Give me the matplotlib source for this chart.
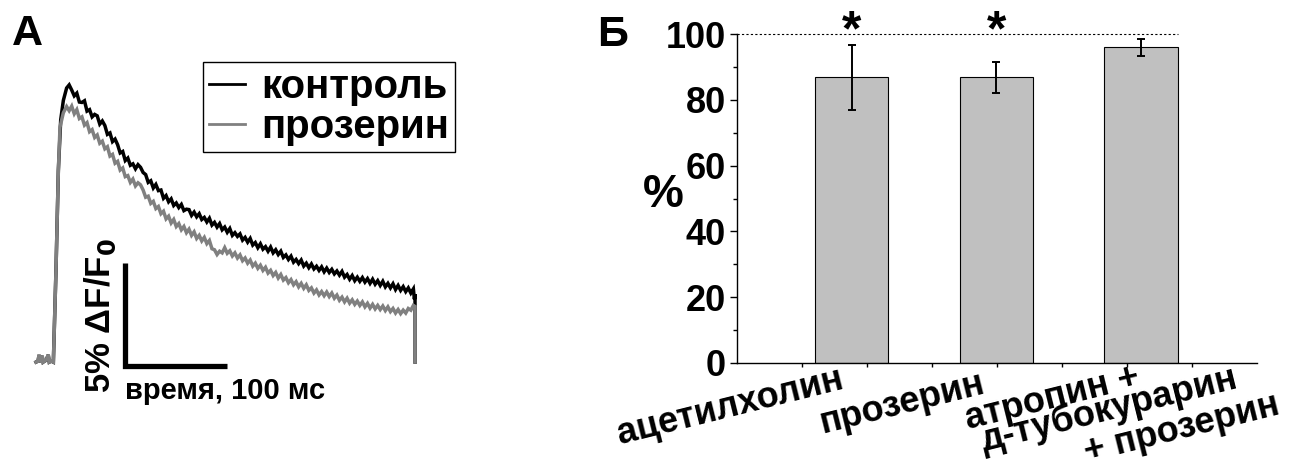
import numpy as np
import matplotlib
matplotlib.use('Agg')
import matplotlib.pyplot as plt
from matplotlib.lines import Line2D

plt.rcParams['font.family'] = ['Liberation Sans', 'DejaVu Sans']
plt.rcParams['font.weight'] = 'bold'

# --- panel A: fluorescence transients (time in ms, dF/F0 in %) ---
# pre-stimulus baseline and rising phase (shared by both records)
onset_t = [0, 2, 3, 4, 6, 7, 10, 12, 13, 15, 17, 19.6, 21.9]
onset_y = [0, 0.05, 0.35, 0.0, 0.3, 0.0, 0.1, 0.35, 0.0, 0.05, 0, 4.5, 9.3]

control_t = [24.2, 26.8, 30.0, 32.5, 35.0, 37.5, 40.0, 42.5, 45.0, 47.5, 50.0, 52.5,
             55.0, 57.5, 60.0, 62.5, 65.0, 67.5, 70.0, 72.5, 75.0, 77.5, 80.0, 82.5,
             85.0, 87.5, 90.0, 92.5, 95.0, 97.5, 100.0, 102.5, 105.0, 107.5, 110.0, 112.5,
             115.0, 117.5, 120.0, 122.5, 125.0, 127.5, 130.0, 132.5, 135.0, 137.5, 140.0, 142.5,
             145.0, 147.5, 150.0, 152.5, 155.0, 157.5, 160.0, 162.5, 165.0, 167.5, 170.0, 172.5,
             175.0, 177.5, 180.0, 182.5, 185.0, 187.5, 190.0, 192.5, 195.0, 197.5, 200.0, 202.5,
             205.0, 207.5, 210.0, 212.5, 215.0, 217.5, 220.0, 222.5, 225.0, 227.5, 230.0, 232.5,
             235.0, 237.5, 240.0, 242.5, 245.0, 247.5, 250.0, 252.5, 255.0, 257.5, 260.0, 262.5,
             265.0, 267.5, 270.0, 272.5, 275.0, 277.5, 280.0, 282.5, 285.0, 287.5, 290.0, 292.5,
             295.0, 297.5, 300.0, 302.5, 305.0, 307.5, 310.0, 312.5, 315.0, 317.5, 320.0, 322.5,
             325.0, 327.5, 330.0, 332.5, 335.0, 337.5, 340.0, 342.5, 345.0, 347.5, 350.0, 352.5,
             355.0, 357.5, 360.0, 362.5, 365.0, 367.5, 370.0, 371.0, 371.6, 371.7]
control_y = [11.75, 12.7, 13.3, 13.45, 13.2, 12.92, 13.05, 12.62, 12.6, 12.68, 12.18, 12.25,
             11.9, 12.02, 11.95, 11.55, 11.7, 11.48, 11.05, 11.12, 10.7, 10.82, 10.55, 10.15,
             10.22, 9.78, 9.9, 9.55, 9.62, 9.38, 9.58, 9.45, 9.2, 9.1, 8.72, 8.8,
             8.45, 8.62, 8.32, 8.35, 7.95, 8.08, 7.78, 7.92, 7.6, 7.72, 7.5, 7.65,
             7.35, 7.42, 7.4, 7.12, 7.28, 7.05, 7.2, 6.92, 7.02, 6.8, 6.98, 6.65,
             6.78, 6.55, 6.72, 6.42, 6.55, 6.3, 6.48, 6.15, 6.28, 6.1, 6.22, 5.92,
             6.05, 5.82, 6.0, 5.68, 5.8, 5.55, 5.74, 5.48, 5.6, 5.38, 5.58, 5.3,
             5.45, 5.22, 5.38, 5.08, 5.2, 4.98, 5.14, 4.85, 4.98, 4.78, 4.95, 4.66,
             4.8, 4.58, 4.76, 4.52, 4.65, 4.45, 4.62, 4.38, 4.56, 4.35, 4.5, 4.28,
             4.42, 4.22, 4.4, 4.12, 4.25, 4.02, 4.2, 3.95, 4.12, 3.92, 4.1, 3.88,
             4.05, 3.82, 4.02, 3.78, 3.95, 3.72, 3.92, 3.65, 3.82, 3.6, 3.8, 3.52,
             3.72, 3.48, 3.66, 3.42, 3.6, 3.35, 3.55, 3.05, 3.3, 0]

neostigmine_t = [23.5, 26.8, 30.0, 32.5, 35.0, 37.5, 40.0, 42.5, 45.0, 47.5, 50.0, 52.5,
                 55.0, 57.5, 60.0, 62.5, 65.0, 67.5, 70.0, 72.5, 75.0, 77.5, 80.0, 82.5,
                 85.0, 87.5, 90.0, 92.5, 95.0, 97.5, 100.0, 102.5, 105.0, 107.5, 110.0, 112.5,
                 115.0, 117.5, 120.0, 122.5, 125.0, 127.5, 130.0, 132.5, 135.0, 137.5, 140.0, 142.5,
                 145.0, 147.5, 150.0, 152.5, 155.0, 157.5, 160.0, 162.5, 165.0, 167.5, 170.0, 172.5,
                 175.0, 177.5, 180.0, 182.5, 185.0, 187.5, 190.0, 192.5, 195.0, 197.5, 200.0, 202.5,
                 205.0, 207.5, 210.0, 212.5, 215.0, 217.5, 220.0, 222.5, 225.0, 227.5, 230.0, 232.5,
                 235.0, 237.5, 240.0, 242.5, 245.0, 247.5, 250.0, 252.5, 255.0, 257.5, 260.0, 262.5,
                 265.0, 267.5, 270.0, 272.5, 275.0, 277.5, 280.0, 282.5, 285.0, 287.5, 290.0, 292.5,
                 295.0, 297.5, 300.0, 302.5, 305.0, 307.5, 310.0, 312.5, 315.0, 317.5, 320.0, 322.5,
                 325.0, 327.5, 330.0, 332.5, 335.0, 337.5, 340.0, 342.5, 345.0, 347.5, 350.0, 352.5,
                 355.0, 357.5, 360.0, 362.5, 365.0, 367.5, 370.0, 371.6, 371.7]
neostigmine_y = [11.4, 12.1, 12.4, 12.2, 12.42, 12.05, 12.25, 11.82, 11.9, 11.5, 11.62, 11.18,
                 11.28, 10.9, 11.02, 10.62, 10.72, 10.35, 10.45, 10.0, 10.08, 9.65, 9.74, 9.32,
                 9.42, 9.0, 9.05, 8.72, 8.88, 8.55, 8.7, 8.6, 8.35, 8.0, 8.05, 7.7,
                 7.8, 7.45, 7.55, 7.2, 7.32, 6.95, 7.08, 6.75, 6.92, 6.58, 6.72, 6.42,
                 6.58, 6.28, 6.45, 6.15, 6.32, 6.0, 6.15, 5.88, 6.05, 5.75, 5.9, 5.5,
                 5.45, 5.22, 5.38, 5.3, 5.55, 5.28, 5.4, 5.15, 5.3, 5.05, 5.2, 4.92,
                 5.05, 4.8, 4.95, 4.66, 4.8, 4.55, 4.7, 4.45, 4.6, 4.32, 4.45, 4.2,
                 4.35, 4.08, 4.25, 3.98, 4.1, 3.85, 4.0, 3.75, 3.9, 3.65, 3.82, 3.58,
                 3.75, 3.48, 3.6, 3.35, 3.5, 3.26, 3.42, 3.22, 3.4, 3.18, 3.35, 3.1,
                 3.25, 3.0, 3.15, 2.92, 3.1, 2.86, 3.02, 2.8, 2.96, 2.75, 2.92, 2.68,
                 2.85, 2.62, 2.8, 2.58, 2.75, 2.55, 2.72, 2.5, 2.68, 2.45, 2.6, 2.38,
                 2.55, 2.35, 2.52, 2.38, 2.6, 2.52, 2.75, 2.7, 0]

legend_labels = ['контроль', 'прозерин']

# --- panel B: amplitude relative to control, % ---
groups = ['ацетилхолин', 'прозерин', 'атропин +\nд-тубокурарин\n+ прозерин']
amplitude = [86.8, 86.8, 95.9]
amplitude_err = [9.9, 4.7, 2.5]
significant = [True, True, False]

W, H = 1295, 468
fig = plt.figure(figsize=(W / 100, H / 100), dpi=100)


def px_rect(x0, y0, x1, y1):
    return [x0 / W, 1 - y1 / H, (x1 - x0) / W, (y1 - y0) / H]


# panel A
ax1 = fig.add_axes(px_rect(30, 60, 460, 400))
ax1.plot(onset_t + control_t, onset_y + control_y, color='black', lw=2.5,
         solid_joinstyle='miter')
ax1.plot(onset_t + neostigmine_t, onset_y + neostigmine_y, color='#808080', lw=2.5,
         solid_joinstyle='miter')
ax1.set_xlim(-5.9, 415.7)
ax1.set_ylim(-1.84, 14.66)
ax1.axis('off')

# scale bar: 100 ms x 5 %
ax1.plot([87.3, 87.3, 187.3], [4.8, -0.2, -0.2], color='black', lw=3.8,
         solid_capstyle='butt', solid_joinstyle='miter')
ax1.text(63, 2.25, '5% ΔF/F$_0$', rotation=90, ha='center', va='center', fontsize=25,
         fontweight='bold')
ax1.text(87.3, -0.7, 'время, 100 мс', ha='left', va='top', fontsize=21, fontweight='bold')

handles = [Line2D([], [], color='black', lw=2), Line2D([], [], color='#808080', lw=2)]
leg = ax1.legend(handles, legend_labels, loc='upper left',
                 bbox_to_anchor=(203 / W, 1 - 62 / H), bbox_transform=fig.transFigure,
                 borderaxespad=0, fancybox=False, edgecolor='black', framealpha=1,
                 fontsize=29, handlelength=0.9, handletextpad=0.4, labelspacing=0.05,
                 borderpad=0.15)
leg.get_frame().set_linewidth(1.0)
fig.text(12 / W, 1 - 34 / H, 'А', fontsize=31, fontweight='bold', ha='left', va='center')

# panel B
ax2 = fig.add_axes(px_rect(737, 34, 1257, 363))
xpos = np.arange(1, len(groups) + 1)
ax2.bar(xpos, amplitude, width=0.51, color='#c0c0c0', edgecolor='black', linewidth=0.8, zorder=2)
ax2.errorbar(xpos, amplitude, yerr=amplitude_err, fmt='none', ecolor='black',
             elinewidth=1.4, capsize=3, capthick=1.4, zorder=3)
ax2.set_xlim(0.21, 3.797)
ax2.set_ylim(0, 100)
ax2.plot([0.21, 3.255], [100, 100], color='black', lw=0.8, ls=(0, (2, 2)), clip_on=False)
for x, s in zip(xpos, significant):
    if s:
        ax2.text(x, 96.5, '*', ha='center', va='baseline', fontsize=36, fontweight='bold',
                 clip_on=False)

ax2.spines['top'].set_visible(False)
ax2.spines['right'].set_visible(False)
ax2.spines['left'].set_linewidth(1.0)
ax2.spines['bottom'].set_linewidth(1.0)
ax2.set_yticks([0, 20, 40, 60, 80, 100])
ax2.set_yticks([10, 30, 50, 70, 90], minor=True)
ax2.tick_params(axis='y', which='major', length=5, width=1, labelsize=26, pad=3)
ax2.tick_params(axis='y', which='minor', length=3, width=1)
ax2.set_xticks(np.linspace(0.21, 3.797, 9)[1:-1])
ax2.set_xticklabels([])
ax2.tick_params(axis='x', which='major', length=3, width=1)
for lab in ax2.get_yticklabels():
    lab.set_fontweight('bold')
fig.text(684 / W, 1 - 195 / H, '%', fontsize=33, fontweight='bold', ha='right', va='center')

# rotated category labels, one text per line
cat_lines = [('ацетилхолин', 620, 444),
             ('прозерин', 823, 433),
             ('атропин +', 968, 429),
             ('д-тубокурарин', 984, 451),
             ('+ прозерин', 1087, 462)]
for txt, x, y in cat_lines:
    fig.text(x / W, 1 - y / H, txt, rotation=14, rotation_mode='anchor', ha='left',
             va='baseline', fontsize=26, fontweight='bold')

fig.text(597 / W, 1 - 35 / H, 'Б', fontsize=31, fontweight='bold', ha='left', va='center')

fig.savefig('out.png', dpi=100)
